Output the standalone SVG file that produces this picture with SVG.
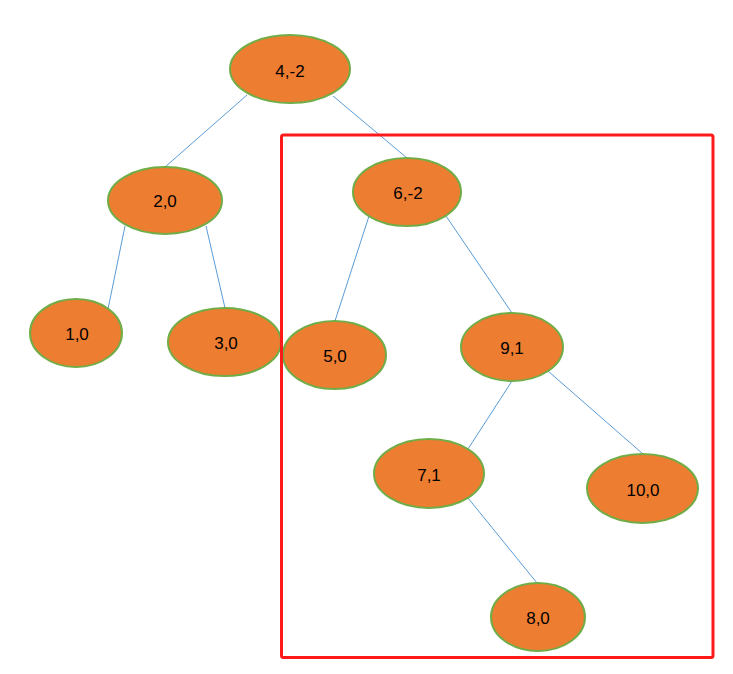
<svg xmlns="http://www.w3.org/2000/svg" width="733" height="674" viewBox="0 0 733 674">
<style>
.n ellipse{fill:#ED7D31;stroke:#70AD47;stroke-width:2}
.n text{font-family:"Liberation Sans",Arial,sans-serif;font-size:17px;fill:#000;text-anchor:middle}
#edges line{stroke:#5B9BD5;stroke-width:1}
</style>
<rect width="733" height="674" fill="#fff"/>
<g id="edges">
<line x1="247" y1="95" x2="165" y2="167"/>
<line x1="333" y1="96" x2="407" y2="158"/>
<line x1="125" y1="226" x2="108" y2="309"/>
<line x1="206" y1="226" x2="225" y2="308"/>
<line x1="369" y1="216" x2="335" y2="321"/>
<line x1="446" y1="216" x2="512" y2="313"/>
<line x1="512" y1="381" x2="468" y2="449"/>
<line x1="548" y1="371" x2="643" y2="454"/>
<line x1="468" y1="498" x2="537" y2="583"/>
</g>
<g id="n4" class="n"><ellipse cx="290" cy="69" rx="60" ry="34"/><text x="290" y="77">4,-2</text></g>
<g id="n2" class="n"><ellipse cx="165" cy="200.5" rx="57" ry="33.5"/><text x="165" y="207">2,0</text></g>
<g id="n6" class="n"><ellipse cx="407" cy="192" rx="54" ry="34"/><text x="408" y="199">6,-2</text></g>
<g id="n1" class="n"><ellipse cx="76" cy="333" rx="46" ry="34"/><text x="77" y="340">1,0</text></g>
<g id="n3" class="n"><ellipse cx="224.5" cy="342" rx="56.5" ry="34"/><text x="226" y="349">3,0</text></g>
<g id="n5" class="n"><ellipse cx="334.5" cy="355" rx="51.5" ry="34"/><text x="335" y="362">5,0</text></g>
<g id="n9" class="n"><ellipse cx="512" cy="347" rx="51" ry="34"/><text x="512" y="354">9,1</text></g>
<g id="n7" class="n"><ellipse cx="429" cy="473.5" rx="55" ry="34.5"/><text x="429" y="481">7,1</text></g>
<g id="n10" class="n"><ellipse cx="642.5" cy="488.5" rx="55.5" ry="34.5"/><text x="643" y="496">10,0</text></g>
<g id="n8" class="n"><ellipse cx="538" cy="617" rx="47" ry="34"/><text x="538" y="624">8,0</text></g>
<rect id="highlight" x="281.5" y="135" width="431.5" height="522.5" rx="2" fill="none" stroke="#FF1A1A" stroke-width="3"/>
</svg>
